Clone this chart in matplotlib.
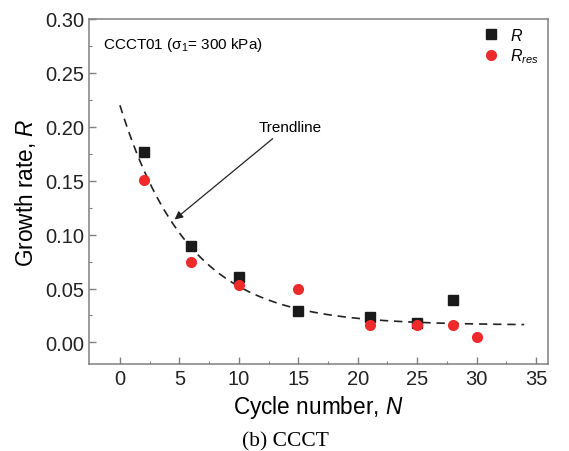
import numpy as np
import matplotlib
matplotlib.use("Agg")
import matplotlib.pyplot as plt

plt.rcParams['font.family'] = ['Liberation Sans', 'DejaVu Sans']
plt.rcParams['mathtext.fontset'] = 'custom'
plt.rcParams['mathtext.rm'] = 'Liberation Sans'
plt.rcParams['mathtext.it'] = 'Liberation Sans:italic'

# data
cycles_r = [2, 6, 10, 15, 21, 25, 28]
growth_r = [0.177, 0.089, 0.061, 0.029, 0.024, 0.018, 0.039]
cycles_rres = [2, 6, 10, 15, 21, 25, 28, 30]
growth_rres = [0.151, 0.075, 0.053, 0.050, 0.016, 0.016, 0.016, 0.005]

# trendline y = a*exp(-N/t) + c
TREND_A = 0.204
TREND_T = 5.76
TREND_C = 0.016
TREND_RANGE = (0, 34)

GRAY = "#808080"

fig = plt.figure(figsize=(5.69, 4.52), dpi=100)
ax = fig.add_axes([0.1564, 0.1925, 0.8066, 0.7633])

nn = np.linspace(TREND_RANGE[0], TREND_RANGE[1], 200)
trend = TREND_A * np.exp(-nn / TREND_T) + TREND_C
ax.plot(nn, trend, ls=(0, (5, 3.5)), color="#222222", lw=1.2, zorder=2)

ax.plot(cycles_r, growth_r, 's', color="#1a1a1a", ms=6.5, label=r'$R$', zorder=3)
ax.plot(cycles_rres, growth_rres, 'o', color="#ee2a2a", ms=7, label=r'$R_{res}$', zorder=4)

# trendline label with arrow
ax.text(14.3, 0.200, "Trendline", fontsize=11, ha="center", va="center")
ax.annotate("", xy=(4.6, 0.114), xytext=(12.85, 0.189),
            arrowprops=dict(arrowstyle="-|>", color="#222222", lw=0.9,
                            shrinkA=0, shrinkB=0, mutation_scale=12))

ax.text(0.03, 0.955, 'CCCT01 (σ$_1$= 300 kPa)', transform=ax.transAxes,
        fontsize=11, ha="left", va="top")

ax.legend(loc="upper right", bbox_to_anchor=(1.005, 1.009), frameon=False,
          fontsize=11.5, handletextpad=0.6, labelspacing=0.2, borderaxespad=0.3,
          handlelength=1.2)

ax.set_xlim(-2.6, 36)
ax.set_ylim(-0.02, 0.30)
ax.set_xticks(np.arange(0, 36, 5))
ax.set_yticks(np.arange(0, 0.31, 0.05))
ax.set_yticklabels([f"{v:.2f}" for v in np.arange(0, 0.31, 0.05)])
ax.set_xticks(np.arange(0, 36, 2.5), minor=True)
ax.set_yticks(np.arange(0, 0.31, 0.025), minor=True)

for s in ax.spines.values():
    s.set_color(GRAY)
    s.set_linewidth(1.1)
ax.tick_params(which="both", direction="in", color=GRAY, top=False, right=False,
               labelsize=14.5, labelcolor="#222222")
ax.tick_params(which="major", length=5, width=1)
ax.tick_params(which="minor", length=2.5, width=0.8)

ax.set_xlabel(r'Cycle number, $N$', fontsize=16.3, labelpad=4)
ax.set_ylabel(r'Growth rate, $R$', fontsize=16.3, labelpad=5)

fig.text(0.501, 0.022, "(b) CCCT", family="Liberation Serif", fontsize=15.5,
         ha="center", va="center")

fig.savefig("out.png", dpi=100)
